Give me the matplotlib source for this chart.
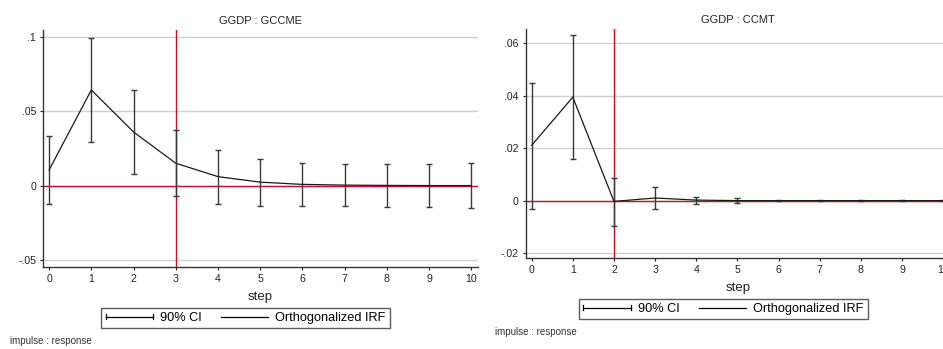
import numpy as np
import matplotlib
matplotlib.use("Agg")
import matplotlib.pyplot as plt
from matplotlib.legend_handler import HandlerBase
from matplotlib.lines import Line2D

plt.rcParams['font.family'] = ['Liberation Sans', 'DejaVu Sans']

steps = np.arange(11)

# GGDP : GCCME
irf_a   = [0.0105, 0.0642, 0.0360, 0.0150, 0.0060, 0.0023, 0.0008, 0.0003, 0.0001, 0.0000, 0.0000]
ci_lo_a = [-0.0125, 0.0291, 0.0077, -0.0067, -0.0123, -0.0136, -0.0137, -0.0140, -0.0142, -0.0145, -0.0148]
ci_hi_a = [0.0334, 0.0989, 0.0640, 0.0372, 0.0238, 0.0177, 0.0154, 0.0146, 0.0146, 0.0147, 0.0150]

# GGDP : CCMT
irf_b   = [0.0211, 0.0395, -0.0003, 0.0010, 0.0002, 0.0000, 0.0000, 0.0000, 0.0000, 0.0000, 0.0000]
ci_lo_b = [-0.0031, 0.0160, -0.0097, -0.0032, -0.0013, -0.0008, -0.0003, -0.0002, -0.0001, -0.0001, -0.0001]
ci_hi_b = [0.0447, 0.0634, 0.0086, 0.0052, 0.0014, 0.0009, 0.0003, 0.0002, 0.0001, 0.0001, 0.0001]

RED = '#c8102e'
GRID = '#d0d0d0'
CI_C = '#3a3a3a'


class HandlerCap(HandlerBase):
    # horizontal line with end caps, like Stata's rcap key
    def create_artists(self, legend, orig, xd, yd, w, h, fs, trans):
        y = h / 2 - yd
        ln = Line2D([-xd, w - xd], [y, y], color='black', lw=0.9, transform=trans)
        c1 = Line2D([-xd, -xd], [y - h * 0.3, y + h * 0.3], color='black', lw=0.9, transform=trans)
        c2 = Line2D([w - xd, w - xd], [y - h * 0.3, y + h * 0.3], color='black', lw=0.9, transform=trans)
        return [ln, c1, c2]


def panel(fig, rect, irf, lo, hi, title, yticks, ylabels, ylim, vline, legend_xy, note_xy):
    ax = fig.add_axes(rect)
    ax.set_xlim(-0.145, 10.16)
    ax.set_ylim(*ylim)
    for t in yticks:
        ax.axhline(t, color=GRID, lw=1.0, zorder=0)
    ax.axhline(0, color=RED, lw=1.0, zorder=1)
    ax.axvline(vline, color=RED, lw=1.0, zorder=1)
    lo = np.array(lo); hi = np.array(hi); irf = np.array(irf)
    ax.vlines(steps, lo, hi, color=CI_C, lw=1.0, zorder=2)
    ax.plot(steps, lo, ls='none', marker='_', ms=4, mew=1.0, color=CI_C, zorder=2)
    ax.plot(steps, hi, ls='none', marker='_', ms=4, mew=1.0, color=CI_C, zorder=2)
    ax.plot(steps, irf, color='#1a1a1a', lw=0.9, zorder=3)
    ax.set_yticks(yticks)
    ax.set_yticklabels(ylabels)
    ax.set_xticks(steps)
    ax.tick_params(labelsize=7.6, length=2.5, width=0.8, pad=2.5, colors='#222222')
    for s in ('top', 'right'):
        ax.spines[s].set_visible(False)
    for s in ('left', 'bottom'):
        ax.spines[s].set_color('#333333')
        ax.spines[s].set_linewidth(1.0)
    ax.set_title(title, fontsize=8.0, pad=4, color='#222222')
    ax.set_xlabel('step', fontsize=9.5, labelpad=5, color='#222222')

    h_ci = Line2D([], [], color='black')
    h_irf = Line2D([], [], color='black', lw=0.9)
    leg = fig.legend([h_ci, h_irf], ['90% CI', 'Orthogonalized IRF'],
                     handler_map={h_ci: HandlerCap()}, ncol=2,
                     loc='center', bbox_to_anchor=legend_xy, fontsize=9.2,
                     frameon=True, fancybox=False, edgecolor='#333333',
                     handlelength=3.7, handletextpad=0.55, columnspacing=1.5,
                     borderpad=0.35, borderaxespad=0)
    leg.get_frame().set_linewidth(1.0)
    fig.text(note_xy[0], note_xy[1], 'impulse : response', fontsize=7.0,
             color='#333333', va='center', ha='left')
    return ax


fig = plt.figure(figsize=(9.43, 3.49), dpi=100)

panel(fig, [43 / 943, 1 - 267 / 349, 435 / 943, 237 / 349],
      irf_a, ci_lo_a, ci_hi_a, 'GGDP : GCCME',
      [-0.05, 0, 0.05, 0.1], ['-.05', '0', '.05', '.1'], (-0.0547, 0.1045), 3,
      (245.5 / 943, 1 - 318 / 349), (10 / 943, 1 - 341 / 349))

panel(fig, [525.7 / 943, 1 - 258 / 349, 424 / 943, 229 / 349],
      irf_b, ci_lo_b, ci_hi_b, 'GGDP : CCMT',
      [-0.02, 0, 0.02, 0.04, 0.06], ['-.02', '0', '.02', '.04', '.06'], (-0.0219, 0.0655), 2,
      (723.3 / 943, 1 - 309 / 349), (495 / 943, 1 - 332 / 349))

fig.savefig('out.png', dpi=100)
